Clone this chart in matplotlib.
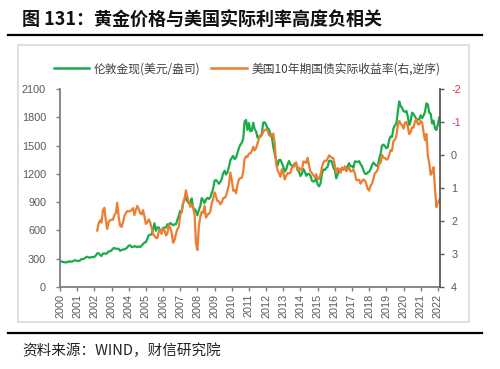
import matplotlib.pyplot as plt
import numpy as np
from matplotlib.lines import Line2D
from matplotlib.patches import Rectangle

plt.rcParams["font.family"] = ["Noto Sans CJK SC", "DejaVu Sans"]
plt.rcParams["axes.unicode_minus"] = False

years = [str(y) for y in range(2000, 2023)]

# 伦敦金现, monthly, from Nov 2000
gold = [
    266, 272,
    265, 262, 263, 261, 272, 270, 268, 273, 283, 283, 276, 276,
    282, 296, 294, 302, 314, 321, 314, 310, 319, 317, 319, 333,
    357, 359, 340, 328, 355, 356, 351, 360, 379, 379, 389, 407,
    414, 405, 406, 404, 384, 392, 398, 400, 406, 420, 439, 442,
    424, 423, 434, 429, 422, 430, 424, 438, 456, 470, 476, 510,
    549, 555, 557, 610, 676, 596, 633, 632, 598, 586, 628, 629,
    631, 665, 655, 679, 667, 655, 665, 665, 713, 754, 806, 803,
    889, 922, 968, 909, 888, 890, 939, 839, 829, 807, 760, 816,
    858, 943, 924, 890, 928, 946, 934, 949, 997, 1043, 1127, 1134,
    1118, 1095, 1113, 1148, 1205, 1233, 1193, 1215, 1271, 1342, 1370, 1391,
    1356, 1372, 1424, 1473, 1510, 1529, 1572, 1756, 1772, 1665, 1739, 1652,
    1656, 1743, 1674, 1650, 1585, 1596, 1594, 1626, 1744, 1747, 1721, 1684,
    1671, 1627, 1593, 1487, 1414, 1343, 1286, 1347, 1349, 1316, 1275, 1225,
    1244, 1300, 1336, 1299, 1288, 1279, 1311, 1296, 1239, 1223, 1176, 1201,
    1251, 1227, 1179, 1199, 1199, 1181, 1128, 1118, 1125, 1157, 1086, 1068,
    1097, 1200, 1246, 1242, 1261, 1276, 1337, 1341, 1326, 1267, 1238, 1152,
    1192, 1234, 1231, 1266, 1246, 1260, 1237, 1283, 1314, 1280, 1282, 1265,
    1331, 1331, 1325, 1335, 1303, 1282, 1238, 1202, 1199, 1215, 1221, 1250,
    1291, 1320, 1301, 1286, 1284, 1359, 1413, 1500, 1510, 1495, 1471, 1480,
    1560, 1597, 1592, 1683, 1715, 1732, 1846, 1968, 1921, 1900, 1866, 1858,
    1867, 1808, 1718, 1760, 1850, 1834, 1807, 1785, 1776, 1777, 1822, 1790,
    1817, 1856, 1948, 1937, 1849, 1836, 1733, 1765, 1681, 1665, 1726, 1798,
]

# 美国10年期国债实际收益率, monthly, from Jan 2003
real_rate = [
    2.29, 2.08, 1.98, 2.05, 1.68, 1.60, 1.98, 2.24, 2.02, 1.98, 1.96, 1.96,
    1.82, 1.76, 1.45, 1.88, 2.14, 2.18, 2.04, 1.85, 1.76, 1.70, 1.71, 1.70,
    1.67, 1.61, 1.82, 1.66, 1.54, 1.64, 1.76, 1.80, 1.67, 1.86, 2.09, 2.04,
    1.95, 2.04, 2.21, 2.40, 2.45, 2.51, 2.52, 2.31, 2.29, 2.39, 2.23, 2.28,
    2.44, 2.38, 2.12, 2.20, 2.35, 2.66, 2.58, 2.40, 2.25, 2.18, 1.81, 1.74,
    1.47, 1.32, 1.07, 1.27, 1.42, 1.57, 1.50, 1.60, 1.80, 2.67, 2.88, 2.17,
    1.88, 1.72, 1.76, 1.54, 1.90, 1.81, 1.78, 1.72, 1.46, 1.34, 1.13, 1.25,
    1.40, 1.40, 1.49, 1.44, 1.31, 1.30, 1.24, 1.08, 0.91, 0.53, 0.76, 1.08,
    1.06, 1.16, 0.90, 0.74, 0.70, 0.69, 0.51, 0.12, 0.04, 0.06, -0.04, -0.05,
    -0.11, -0.25, -0.14, -0.21, -0.34, -0.50, -0.60, -0.59, -0.71, -0.75, -0.78, -0.74,
    -0.61, -0.57, -0.59, -0.65, -0.36, 0.25, 0.46, 0.55, 0.66, 0.43, 0.55, 0.74,
    0.63, 0.55, 0.56, 0.54, 0.37, 0.37, 0.28, 0.22, 0.46, 0.38, 0.45, 0.46,
    0.20, 0.21, 0.24, 0.08, 0.33, 0.50, 0.54, 0.62, 0.67, 0.58, 0.71, 0.73,
    0.60, 0.37, 0.23, 0.17, 0.18, 0.11, 0.01, 0.06, 0.08, 0.10, 0.31, 0.54,
    0.40, 0.43, 0.54, 0.39, 0.45, 0.34, 0.49, 0.44, 0.38, 0.50, 0.49, 0.44,
    0.55, 0.76, 0.76, 0.75, 0.87, 0.79, 0.74, 0.78, 0.87, 1.03, 1.08, 0.93,
    0.87, 0.72, 0.55, 0.52, 0.43, 0.25, 0.24, 0.00, 0.08, 0.09, 0.14, 0.12,
    0.00, -0.15, -0.13, -0.43, -0.46, -0.58, -0.89, -1.03, -0.95, -0.90, -0.80, -0.98,
    -1.00, -0.86, -0.63, -0.70, -0.84, -0.83, -1.01, -1.09, -0.93, -0.93, -1.03, -0.99,
    -0.69, -0.45, -0.64, 0.01, 0.25, 0.60, 0.52, 0.37, 1.03, 1.58, 1.44, 1.36,
]

green = "#1AAB4B"
orange = "#ED7D31"

fig = plt.figure(figsize=(5, 3.69), dpi=100)
ax = fig.add_axes([0.12, 1 - 287 / 369, 0.76, 198 / 369])
ax2 = ax.twinx()

x = np.arange(len(gold))
x2 = x[len(gold) - len(real_rate):]
ax.plot(x, gold, color=green, lw=1.6)
ax2.plot(x2, real_rate, color=orange, lw=1.6)

ax.set_xlim(0, 265.5)
ax.set_ylim(0, 2100)
ax.set_yticks(range(0, 2101, 300))
ax.set_xticks(range(0, 265, 12))
ax.set_xticklabels(years, rotation=90)
ax2.set_ylim(4, -2)
ax2.set_yticks(range(-2, 5))

for s in ["top", "right"]:
    ax.spines[s].set_visible(False)
for s in ["top", "left", "bottom"]:
    ax2.spines[s].set_visible(False)
ax.spines["left"].set_color("#7F7F7F")
ax.spines["bottom"].set_color("#7F7F7F")
ax.spines["left"].set_linewidth(1.3)
ax.spines["bottom"].set_linewidth(1.3)
ax2.spines["right"].set_color("#595959")
ax2.spines["right"].set_linewidth(1.3)

ax.tick_params(axis="y", length=3, width=1, color="#7F7F7F", pad=7,
               labelsize=7.8, labelcolor="#595959", labelfontfamily="Liberation Sans")
ax.tick_params(axis="x", length=3, width=1, color="#7F7F7F", pad=2,
               labelsize=7.8, labelcolor="#595959", labelfontfamily="Liberation Sans")
ax2.tick_params(axis="y", length=3, width=1, color="#595959", pad=5,
                labelsize=7.8, labelcolor="#595959", labelfontfamily="Liberation Sans")
for lab in ax2.get_yticklabels():
    if lab.get_text().startswith("-"):
        lab.set_color("#E0384C")

handles = [Line2D([], [], color=green, lw=1.8), Line2D([], [], color=orange, lw=1.8)]
fig.legend(handles, ["伦敦金现(美元/盎司)", "美国10年期国债实际收益率(右,逆序)"],
           loc="center", bbox_to_anchor=(0.494, 1 - 69 / 369), ncol=2, frameon=False,
           fontsize=8.5, handlelength=3, handletextpad=0.4, columnspacing=0.9,
           labelcolor="#404040")

fig.patches.append(Rectangle((18 / 500, 1 - 322 / 369), 451 / 500, 277 / 369,
                             transform=fig.transFigure, fill=False,
                             edgecolor="#D9D9D9", lw=1.2))
fig.add_artist(Line2D([8 / 500, 482 / 500], [1 - 35 / 369] * 2, color="black", lw=1.6))
fig.add_artist(Line2D([8 / 500, 482 / 500], [1 - 333 / 369] * 2, color="black", lw=1.6))

fig.text(22 / 500, 1 - 20 / 369, "图 131：黄金价格与美国实际利率高度负相关",
         fontsize=13, fontweight="bold", va="center", ha="left", color="#111111")
fig.text(22 / 500, 1 - 351 / 369, "资料来源：WIND，财信研究院",
         fontsize=10.5, va="center", ha="left", color="#222222")

fig.savefig("out.png", dpi=100)
